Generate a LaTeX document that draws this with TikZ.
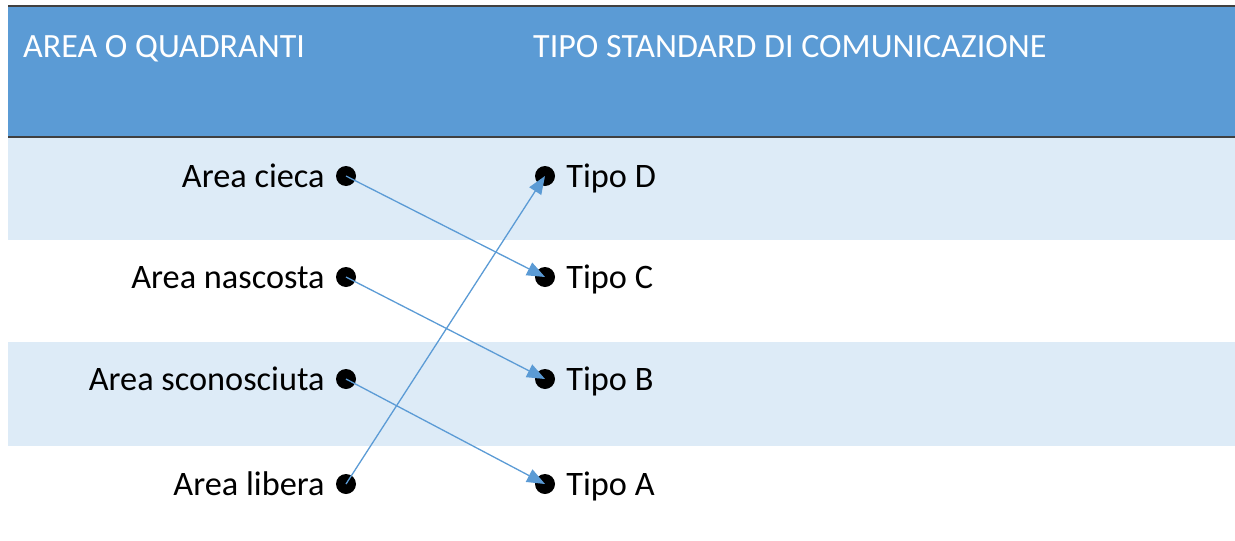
\documentclass[tikz,border=0pt]{standalone}
\usepackage{fontspec}
\setmainfont{Carlito}
\usepackage{tikz}
\usetikzlibrary{arrows.meta,positioning}
\definecolor{headblue}{RGB}{91,155,213}
\definecolor{bandblue}{RGB}{221,235,247}
\definecolor{rulegray}{RGB}{64,64,64}
\tikzset{
  hdr/.style={anchor=base west,text=white,inner sep=0pt,font=\fontsize{34}{40}\selectfont},
  dot/.style={circle,fill=black,minimum size=20pt,inner sep=0pt},
  lbl/.style={inner sep=0pt,text height=22pt,text depth=0pt,font=\fontsize{34.3}{41}\selectfont},
  link/.style={-{Triangle[length=18pt,width=14pt]},draw=headblue,line width=1.3pt}
}

\begin{document}
\begin{tikzpicture}[x=1pt,y=-1pt]
\useasboundingbox (0,0) rectangle (1235,541);
% table header and shaded rows
\fill[headblue] (8,6) rectangle (1235,137);
\fill[bandblue] (8,137) rectangle (1235,240);
\fill[bandblue] (8,342) rectangle (1235,446);
\draw[rulegray,line width=2pt] (8,6) -- (1235,6);
\draw[rulegray,line width=2pt] (8,137) -- (1235,137);
\node[hdr] (hArea) at (23,57) {AREA O QUADRANTI};
\node[hdr] (hTipo) at (533,57) {TIPO STANDARD DI COMUNICAZIONE};
% left column
\node[dot] (ld1) at (346,176) {};
\node[dot] (ld2) at (346,277) {};
\node[dot] (ld3) at (346,379) {};
\node[dot] (ld4) at (346,484) {};
\node[lbl,left=11pt of ld1] (la1) {Area cieca};
\node[lbl,left=11pt of ld2] (la2) {Area nascosta};
\node[lbl,left=11pt of ld3] (la3) {Area sconosciuta};
\node[lbl,left=11pt of ld4] (la4) {Area libera};
% right column
\node[dot] (rd1) at (545,176) {};
\node[dot] (rd2) at (545,277) {};
\node[dot] (rd3) at (545,379) {};
\node[dot] (rd4) at (545,484) {};
\node[lbl,right=11pt of rd1] (ta1) {Tipo D};
\node[lbl,right=11pt of rd2] (ta2) {Tipo C};
\node[lbl,right=11pt of rd3] (ta3) {Tipo B};
\node[lbl,right=11pt of rd4] (ta4) {Tipo A};
% links
\draw[link] (ld1.center) -- (rd2.center);
\draw[link] (ld2.center) -- (rd3.center);
\draw[link] (ld3.center) -- (rd4.center);
\draw[link] (ld4.center) -- (rd1.center);
\end{tikzpicture}
\end{document}
